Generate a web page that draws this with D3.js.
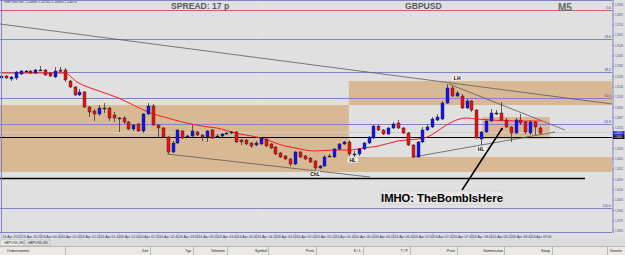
<!DOCTYPE html>
<html><head><meta charset="utf-8">
<script src="https://cdn.jsdelivr.net/npm/d3@7"></script>
<style>body{margin:0;background:#e0e0e0;overflow:hidden}svg{display:block}</style>
</head><body><svg id="c" width="625" height="255"></svg>
<script>
// ---------- DATA ----------
const open  = [1.2522,1.2524,1.2521,1.2522,1.2526,1.2529,1.2529,1.2527,1.2530,1.2530,1.2527,1.2523,1.2530,1.2530,1.2519,1.2513,1.2505,1.2508,1.2493,1.2489,1.2486,1.2492,1.2492,1.2485,1.2482,1.2482,1.2478,1.2471,1.2476,1.2469,1.2486,1.2494,1.2475,1.2472,1.2463,1.2448,1.2457,1.2469,1.2463,1.2464,1.2468,1.2465,1.2463,1.2470,1.2464,1.2464,1.2466,1.2468,1.2468,1.2460,1.2460,1.2457,1.2455,1.2456,1.2461,1.2456,1.2453,1.2447,1.2444,1.2441,1.2436,1.2448,1.2444,1.2442,1.2439,1.2432,1.2434,1.2444,1.2443,1.2451,1.2456,1.2458,1.2446,1.2446,1.2451,1.2457,1.2462,1.2474,1.2470,1.2466,1.2472,1.2477,1.2472,1.2467,1.2455,1.2443,1.2458,1.2470,1.2473,1.2480,1.2481,1.2497,1.2512,1.2504,1.2504,1.2492,1.2499,1.2490,1.2461,1.2468,1.2479,1.2487,1.2487,1.2480,1.2473,1.2467,1.2480,1.2478,1.2467,1.2478,1.2472];
const high  = [1.2525,1.2525,1.2524,1.2529,1.2530,1.2530,1.2530,1.2531,1.2534,1.2531,1.2528,1.2533,1.2533,1.2532,1.2520,1.2514,1.2511,1.2509,1.2494,1.2491,1.2495,1.2497,1.2493,1.2488,1.2483,1.2484,1.2479,1.2476,1.2477,1.2487,1.2497,1.2496,1.2476,1.2473,1.2464,1.2459,1.2471,1.2470,1.2465,1.2475,1.2469,1.2466,1.2470,1.2471,1.2466,1.2467,1.2468,1.2469,1.2469,1.2461,1.2461,1.2458,1.2459,1.2463,1.2462,1.2457,1.2454,1.2448,1.2445,1.2442,1.2449,1.2449,1.2445,1.2443,1.2440,1.2435,1.2445,1.2446,1.2452,1.2457,1.2459,1.2460,1.2449,1.2452,1.2458,1.2464,1.2475,1.2475,1.2471,1.2473,1.2478,1.2480,1.2473,1.2468,1.2456,1.2459,1.2473,1.2476,1.2483,1.2486,1.2499,1.2516,1.2514,1.2509,1.2506,1.2501,1.2500,1.2491,1.2469,1.2481,1.2491,1.2490,1.2498,1.2482,1.2474,1.2482,1.2486,1.2479,1.2480,1.2479,1.2474];
const low   = [1.2521,1.2521,1.2519,1.2520,1.2525,1.2528,1.2526,1.2526,1.2529,1.2524,1.2523,1.2522,1.2528,1.2518,1.2512,1.2504,1.2504,1.2492,1.2483,1.2479,1.2484,1.2487,1.2479,1.2478,1.2468,1.2476,1.2470,1.2469,1.2468,1.2467,1.2485,1.2474,1.2463,1.2462,1.2446,1.2447,1.2456,1.2461,1.2462,1.2463,1.2464,1.2459,1.2458,1.2461,1.2462,1.2463,1.2465,1.2466,1.2457,1.2455,1.2455,1.2452,1.2454,1.2455,1.2453,1.2451,1.2445,1.2442,1.2440,1.2434,1.2435,1.2442,1.2440,1.2437,1.2430,1.2431,1.2433,1.2443,1.2442,1.2450,1.2455,1.2444,1.2443,1.2444,1.2450,1.2456,1.2461,1.2469,1.2465,1.2465,1.2471,1.2471,1.2466,1.2454,1.2442,1.2442,1.2457,1.2469,1.2472,1.2479,1.2480,1.2496,1.2503,1.2503,1.2491,1.2491,1.2488,1.2461,1.2455,1.2467,1.2478,1.2485,1.2479,1.2472,1.2458,1.2466,1.2475,1.2466,1.2465,1.2465,1.2466];
const close = [1.2524,1.2522,1.2523,1.2528,1.2529,1.25285,1.2527,1.2530,1.25295,1.2525,1.2524,1.2529,1.25285,1.2520,1.2513,1.2505,1.2508,1.2493,1.2488,1.2486,1.2492,1.24915,1.2482,1.2482,1.24815,1.2478,1.2471,1.2475,1.2469,1.2486,1.2494,1.2475,1.2472,1.2463,1.2448,1.2457,1.2470,1.2462,1.2464,1.2469,1.2465,1.2463,1.2469,1.2462,1.24635,1.2466,1.2467,1.24675,1.2458,1.2458,1.2456,1.2454,1.2457,1.2462,1.2454,1.2452,1.2446,1.2443,1.2441,1.2436,1.2448,1.2443,1.2441,1.2438,1.2432,1.2434,1.2443,1.24435,1.2451,1.2456,1.2458,1.2446,1.24455,1.2451,1.2457,1.2463,1.2474,1.2470,1.2466,1.2472,1.2476,1.2472,1.2467,1.2455,1.2443,1.2458,1.2470,1.2473,1.2481,1.2483,1.2497,1.2512,1.2504,1.2507,1.2492,1.2499,1.2490,1.2462,1.2468,1.2479,1.2487,1.24865,1.2480,1.2473,1.2467,1.2480,1.2477,1.2468,1.2478,1.2473,1.2467];

const maIdx = [0,13,15.5,20,24,27,30,34,37,41,45,47,53,58,60,64,68,71,74,77,81,85,87,90,92,95,97,100,105,110];
const maVal = [1.2527,1.2527,1.2518,1.2509,1.2502,1.2495,1.2488,1.2482,1.2478,1.2474,1.2471,1.2468,1.2462,1.2454,1.2452,1.2449,1.2450,1.2450,1.2452,1.2454,1.2459,1.2461,1.2463,1.2472,1.2478,1.2482,1.2481,1.2480,1.2479,1.2479];

const levelPrices = [1.2590,1.2561,1.2528,1.2502,1.2476,1.2392];
const levelNames  = ["0.0","23.6","38.2","50.0","61.8","100.0"];
const blackLevels = [1.2463,1.2422];
const greyLevels  = [1.2468];

const zoneStart = [-2,71,71,98.2];
const zoneEnd   = [71,130,130,112];
const zoneTop   = [1.2495,1.2519,1.2443,1.2483];
const zoneBot   = [1.2428,1.2495,1.2428,1.2461];

const trendI1 = [-0.2,91.4,84.1,33.9];
const trendP1 = [1.2576,1.2516,1.2443,1.2446];
const trendI2 = [124.7,115.1,113.1,75.3];
const trendP2 = [1.2496,1.2470,1.2468,1.2423];

const arrowI = [94.1,102.2];
const arrowP = [1.2410,1.2471];

const noteText  = ["LH","HL","HL","ChL"];
const noteIdx   = [93.1,98,71.8,64.1];
const notePrice = [1.2522,1.2451,1.2440,1.2426];

const priceTicks = [1.25960,1.25857,1.25754,1.25651,1.25548,1.25445,1.25342,1.25239,1.25136,1.25033,1.24930,1.24827,1.24724,1.24621,1.24518,1.24415,1.24312,1.24209,1.24106,1.24003,1.23900,1.23797,1.23694];
const timeLabels = ["16 Apr 2020","16 Apr 00:20","16 Apr 00:40","16 Apr 01:00","16 Apr 01:20","16 Apr 01:40","16 Apr 02:00","16 Apr 02:20","16 Apr 02:40","16 Apr 03:00","16 Apr 03:20","16 Apr 03:40","16 Apr 04:00","16 Apr 04:20","16 Apr 04:40","16 Apr 05:00","16 Apr 05:20","16 Apr 05:40","16 Apr 06:00","16 Apr 06:20","16 Apr 06:40","16 Apr 07:00","16 Apr 07:20","16 Apr 07:40","16 Apr 08:00","16 Apr 08:20","16 Apr 08:40","16 Apr 09:00"];
const headerCols = ["Ordernummer","Zeit","Typ","Volumen","Symbol","Preis","S / L","T / P","Preis","Kommission","Swap","Gewinn"];
const tabs = ["GBPUSD,M5","GBPUSD,M5"];
const statusText = "GBPUSD,M5  1.24680 1.24740 1.24660 1.24670";

// ---------- DRAW ----------
const svg = d3.select("#c");
const W = 612, H = 232;
const x = d3.scaleLinear().domain([0,124]).range([1, 1+4.9*124]);
const y = d3.scaleLinear().domain([1.26,1.2368]).range([0,H]);
const beige = "#d8b994", blue = "#8282c8";
const small = "'Liberation Sans',sans-serif";
const sx = 0.66;

svg.append("rect").attr("width",625).attr("height",255).attr("fill","#e0e0e0");
svg.append("clipPath").attr("id","clip").append("rect").attr("x",0).attr("y",0).attr("width",W).attr("height",H);
const g = svg.append("g").attr("clip-path","url(#clip)");

// zones
g.selectAll(".zone").data(zoneStart).join("rect")
  .attr("x",(d,i)=>x(d)).attr("y",(d,i)=>y(zoneTop[i]))
  .attr("width",(d,i)=>x(zoneEnd[i])-x(d)).attr("height",(d,i)=>y(zoneBot[i])-y(zoneTop[i]))
  .attr("fill",beige);

// levels
g.selectAll(".lvl").data(levelPrices).join("line")
  .attr("x1",0).attr("x2",W).attr("y1",d=>Math.round(y(d))+0.5).attr("y2",d=>Math.round(y(d))+0.5)
  .attr("stroke",(d,i)=>i===0?"#c86464":blue).attr("stroke-width",1);
g.selectAll(".glvl").data(greyLevels).join("line")
  .attr("x1",0).attr("x2",W).attr("y1",d=>Math.round(y(d))+0.5).attr("y2",d=>Math.round(y(d))+0.5)
  .attr("stroke","#cfcfcf").attr("stroke-width",1);
g.selectAll(".blvl").data(blackLevels).join("line")
  .attr("x1",0).attr("x2",(d,i)=>i===0?W:585).attr("y1",d=>Math.round(y(d))+0.5).attr("y2",d=>Math.round(y(d))+0.5)
  .attr("stroke","#000").attr("stroke-width",(d,i)=>i===0?1:1.6);
svg.selectAll(".lvlname").data(levelNames).join("text")
  .attr("x",611).attr("y",(d,i)=>y(levelPrices[i])-1).attr("text-anchor","end")
  .attr("font-family",small).attr("font-size",3.4).attr("fill","#4a4a90").text(d=>d);

// trend lines
g.selectAll(".trend").data(trendI1).join("line")
  .attr("x1",d=>x(d)).attr("y1",(d,i)=>y(trendP1[i]))
  .attr("x2",(d,i)=>x(trendI2[i])).attr("y2",(d,i)=>y(trendP2[i]))
  .attr("stroke","#5a5a5a").attr("stroke-width",0.8);

// moving average
g.append("path").datum(maIdx.map((d,i)=>[d,maVal[i]]))
  .attr("d",d3.line().x(d=>x(d[0])).y(d=>y(d[1])).curve(d3.curveMonotoneX))
  .attr("fill","none").attr("stroke","#ff1a1a").attr("stroke-width",1);

// candles
const idx = d3.range(open.length);
g.selectAll(".wick").data(idx).join("line")
  .attr("x1",i=>Math.round(x(i))+0.5).attr("x2",i=>Math.round(x(i))+0.5)
  .attr("y1",i=>y(high[i])).attr("y2",i=>y(low[i]))
  .attr("stroke","#3a3a3a").attr("stroke-width",0.8);
g.selectAll(".body").data(idx).join("rect")
  .attr("x",i=>Math.round(x(i))-1).attr("width",3)
  .attr("y",i=>y(Math.max(open[i],close[i])))
  .attr("height",i=>Math.max(1,Math.abs(y(open[i])-y(close[i]))))
  .attr("fill",i=>Math.abs(open[i]-close[i])<0.00006?"#222":(close[i]>open[i]?"#1010ff":"#f01010"))
  .attr("stroke","#202020").attr("stroke-width",0.4);

// arrow
g.append("line").attr("x1",x(arrowI[0])).attr("y1",y(arrowP[0])).attr("x2",x(arrowI[1])).attr("y2",y(arrowP[1]))
  .attr("stroke","#000").attr("stroke-width",1.5);
g.append("circle").attr("cx",x(arrowI[1])).attr("cy",y(arrowP[1])).attr("r",1.2).attr("fill","#000");

// notes
const notes = g.selectAll(".note").data(noteText).join("g")
  .attr("transform",(d,i)=>`translate(${x(noteIdx[i])},${y(notePrice[i])})`);
notes.append("rect").attr("x",-5).attr("y",-2.5).attr("width",10).attr("height",5).attr("fill","#f4f4f4");
notes.append("text").attr("text-anchor","middle").attr("y",1.8).attr("font-family","Liberation Sans")
  .attr("font-weight","bold").attr("font-size",5).attr("fill","#000").text(d=>d);

// IMHO label
svg.append("rect").attr("x",381).attr("y",191).attr("width",122).attr("height",13).attr("fill","#e6e6e6").attr("stroke","#cccccc").attr("stroke-width",0.6);
svg.append("text").attr("x",442).attr("y",201.5).attr("text-anchor","middle").attr("font-family","Liberation Sans")
  .attr("font-weight","bold").attr("font-size",11.2).attr("fill","#000").text("IMHO: TheBombIsHere");

// titles
const tf = "Liberation Sans";
svg.append("text").attr("x",171).attr("y",9).attr("font-family",tf).attr("font-weight","bold").attr("font-size",8.6).attr("fill","#5a5a5a").text("SPREAD: 17 p");
svg.append("text").attr("x",405).attr("y",9).attr("font-family",tf).attr("font-weight","bold").attr("font-size",8.6).attr("fill","#5a5a5a").text("GBPUSD");
svg.append("text").attr("x",558).attr("y",11).attr("font-family",tf).attr("font-weight","bold").attr("font-size",10).attr("fill","#6a6a6a").text("M5");
svg.append("text").attr("x",4).attr("y",3.2).attr("font-family",small).attr("font-size",3.4).attr("fill","#30306a").text(statusText);

// frame
svg.append("line").attr("x1",1.5).attr("x2",1.5).attr("y1",0).attr("y2",H+1).attr("stroke",blue);
svg.append("line").attr("x1",0).attr("x2",W).attr("y1",0.5).attr("y2",0.5).attr("stroke",blue);

// price axis (labels horizontally compressed to fit the narrow scale strip)
const ax = svg.append("g").attr("transform",`translate(${W+0.5},0)`)
  .call(d3.axisRight(y).tickValues(priceTicks).tickFormat(d3.format(".5f")).tickSize(1.5).tickPadding(0.8));
ax.select(".domain").attr("stroke",blue);
ax.selectAll(".tick line").attr("stroke",blue);
ax.selectAll(".tick text").attr("font-family",small).attr("font-size",3.4).attr("fill","#40408a")
  .attr("x",2.4/sx).attr("transform",`scale(${sx},1)`);
// price markers
const markP = [close[close.length-1], blackLevels[0]];
svg.selectAll(".mark").data(markP).join("rect").attr("x",W+1).attr("width",11.5)
  .attr("y",d=>y(d)-2).attr("height",4).attr("fill",(d,i)=>i===0?"#2a2ad0":"#111");
const mk = svg.append("g").attr("transform",`translate(${W+2.2},0) scale(${sx},1)`);
mk.selectAll(".markt").data(markP).join("text").attr("x",0).attr("y",d=>y(d)+1.2)
  .attr("font-family",small).attr("font-size",3.4).attr("fill","#fff").text(d=>d3.format(".5f")(d));

// time axis
svg.append("line").attr("x1",0).attr("x2",W).attr("y1",H+0.5).attr("y2",H+0.5).attr("stroke",blue);
const tl = svg.selectAll(".tl").data(timeLabels).join("g").attr("transform",(d,i)=>`translate(${x(i*4)},${H})`);
tl.append("line").attr("x1",0.5).attr("x2",0.5).attr("y1",1).attr("y2",7).attr("stroke","#a8a8c8").attr("stroke-width",0.6);
tl.append("text").attr("x",1.5).attr("y",5.6).attr("font-family",small).attr("font-size",3.5).attr("fill","#30306a").text(d=>d);

// tabs row
svg.append("rect").attr("x",0).attr("y",239).attr("width",625).attr("height",16).attr("fill","#d4d0c8");
svg.append("rect").attr("x",0).attr("y",239).attr("width",625).attr("height",7).attr("fill","#dcdcdc");
const tabX=[1,25], tabW=[23,25];
svg.selectAll(".tab").data(tabs).join("rect").attr("x",(d,i)=>tabX[i]).attr("y",240).attr("width",(d,i)=>tabW[i]).attr("height",5.5)
  .attr("fill",(d,i)=>i===0?"#f6f6f6":"#e4e4e4").attr("stroke","#a0a0a0").attr("stroke-width",0.4);
svg.selectAll(".tabt").data(tabs).join("text").attr("x",(d,i)=>tabX[i]+2.5).attr("y",244.2)
  .attr("font-family",small).attr("font-size",3.5).attr("fill","#222").text(d=>d);

// terminal header
svg.append("rect").attr("x",0).attr("y",247).attr("width",625).attr("height",8).attr("fill","#ebe9e3");
svg.append("line").attr("x1",0).attr("x2",625).attr("y1",246.5).attr("y2",246.5).attr("stroke","#a0a0a0").attr("stroke-width",0.5);
const sepX = [65,150,193,227,268,316,363,410,457,504,552,607];
const colRight = [null,148,191,225,267,314,361,408,455,503,550,622];
svg.selectAll(".sep").data(sepX).join("line").attr("x1",d=>d+0.5).attr("x2",d=>d+0.5).attr("y1",247).attr("y2",255).attr("stroke","#9a9a9a").attr("stroke-width",0.6);
svg.selectAll(".hdr").data(headerCols).join("text")
  .attr("x",(d,i)=>i===0?7:colRight[i]).attr("y",252.3).attr("text-anchor",(d,i)=>i===0?"start":"end")
  .attr("font-family",small).attr("font-size",3.6).attr("fill","#222").text(d=>d);
</script></body></html>
